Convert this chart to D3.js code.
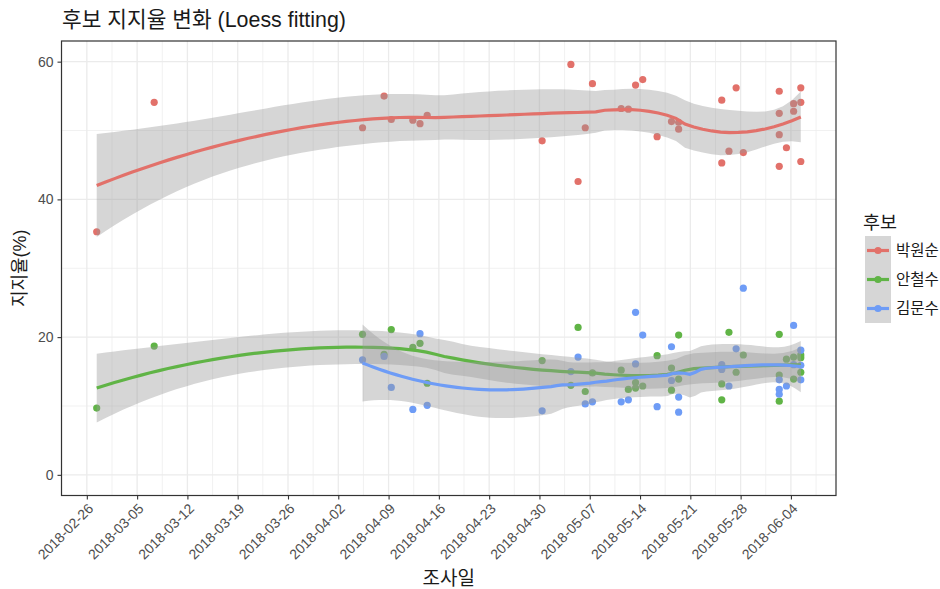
<!DOCTYPE html>
<html>
<head>
<meta charset="utf-8">
<script src="https://cdn.jsdelivr.net/npm/d3@7"></script>
<style>
  body { margin: 0; background: #ffffff; }
  svg { display: block; }
</style>
</head>
<body>
<svg id="chart" width="940" height="589"></svg>
<script>
// ---- data -------------------------------------------------------------
const candidates = ["박원순", "안철수", "김문수"];
const candidateColors = ["#E2716A", "#60B446", "#6E9CF6"];

const parkDates = ["2018-02-27","2018-03-07","2018-04-05","2018-04-08","2018-04-09","2018-04-12","2018-04-13","2018-04-14",
  "2018-04-30","2018-05-04","2018-05-05","2018-05-06","2018-05-07","2018-05-11","2018-05-12","2018-05-13","2018-05-14",
  "2018-05-16","2018-05-18","2018-05-19","2018-05-19","2018-05-25","2018-05-25","2018-05-26","2018-05-27","2018-05-28",
  "2018-06-02","2018-06-02","2018-06-02","2018-06-02","2018-06-03","2018-06-04","2018-06-04","2018-06-05","2018-06-05","2018-06-05"];
const parkValues = [35.3, 54.1, 50.4, 55.0, 51.6, 51.5, 51.0, 52.2,
  48.5, 59.6, 42.6, 50.4, 56.8, 53.2, 53.1, 56.6, 57.4,
  49.1, 51.3, 51.2, 50.2, 54.4, 45.3, 47.0, 56.2, 46.8,
  55.7, 52.5, 49.4, 44.8, 47.5, 53.9, 52.8, 56.2, 54.1, 45.5];

const ahnDates = ["2018-02-27","2018-03-07","2018-04-05","2018-04-08","2018-04-09","2018-04-12","2018-04-13","2018-04-14",
  "2018-04-30","2018-05-04","2018-05-05","2018-05-06","2018-05-07","2018-05-11","2018-05-12","2018-05-13","2018-05-13",
  "2018-05-14","2018-05-16","2018-05-18","2018-05-18","2018-05-19","2018-05-19","2018-05-25","2018-05-25","2018-05-26",
  "2018-05-27","2018-05-28","2018-06-02","2018-06-02","2018-06-02","2018-06-03","2018-06-04","2018-06-04","2018-06-05",
  "2018-06-05","2018-06-05"];
const ahnValues = [9.7, 18.7, 20.4, 17.5, 21.1, 18.5, 19.1, 13.3,
  16.6, 13.0, 21.4, 12.1, 14.8, 15.2, 12.4, 13.4, 12.6,
  12.9, 17.3, 15.5, 12.3, 20.3, 13.9, 13.2, 10.9, 20.7,
  14.9, 17.4, 20.4, 14.5, 10.7, 16.8, 17.1, 13.9, 17.4,
  17.0, 14.9];

const kimDates = ["2018-04-05","2018-04-08","2018-04-09","2018-04-12","2018-04-13","2018-04-14",
  "2018-04-30","2018-05-04","2018-05-05","2018-05-06","2018-05-07","2018-05-11","2018-05-12","2018-05-13","2018-05-13",
  "2018-05-14","2018-05-16","2018-05-18","2018-05-18","2018-05-19","2018-05-19","2018-05-25","2018-05-25","2018-05-26",
  "2018-05-27","2018-05-28","2018-06-02","2018-06-02","2018-06-02","2018-06-03","2018-06-04","2018-06-04","2018-06-05",
  "2018-06-05","2018-06-05"];
const kimValues = [16.7, 17.2, 12.7, 9.5, 20.5, 10.1,
  9.3, 15.0, 17.1, 10.3, 10.6, 10.6, 10.9, 23.6, 16.1,
  20.3, 9.9, 18.6, 13.7, 11.3, 9.1, 16.0, 15.3, 12.9,
  18.3, 27.1, 13.8, 12.4, 11.7, 12.9, 21.7, 16.0, 18.1,
  15.9, 13.8];

const xTickLabels = ["2018-02-26","2018-03-05","2018-03-12","2018-03-19","2018-03-26","2018-04-02","2018-04-09",
  "2018-04-16","2018-04-23","2018-04-30","2018-05-07","2018-05-14","2018-05-21","2018-05-28","2018-06-04"];
const yTicks = [0, 20, 40, 60];
const yMinorTicks = [10, 30, 50];
const yLimits = [0, 60];

const titleText = "후보 지지율 변화 (Loess fitting)";
const xTitle = "조사일";
const yTitle = "지지율(%)";
const legendTitle = "후보";

// ---- layout -----------------------------------------------------------
const panel = { left: 61.5, right: 836, top: 41, bottom: 495.5 };
const svg = d3.select("#chart");
const fontLatin = "'Liberation Sans', Arial, 'Noto Sans CJK KR', sans-serif";
const fontKo = "'Noto Sans CJK KR', 'Noto Sans', sans-serif";
const DAY = 86400000;

// survey dates are stored as UTC midnights; the axis labels sit on KST midnights
const parseSurvey = s => new Date(s + "T00:00:00Z");
const parseTick = s => new Date(s + "T00:00:00+09:00");

const series = [
  { name: candidates[0], color: candidateColors[0], dates: parkDates, values: parkValues },
  { name: candidates[1], color: candidateColors[1], dates: ahnDates, values: ahnValues },
  { name: candidates[2], color: candidateColors[2], dates: kimDates, values: kimValues }
].map(s => ({ ...s, points: s.dates.map((d, i) => ({ date: parseSurvey(d), value: s.values[i] })) }));

// ---- scales (5% expansion, as in ggplot) ------------------------------
const allDates = series.flatMap(s => s.points.map(p => +p.date));
const [dMin, dMax] = d3.extent(allDates);
const dPad = (dMax - dMin) * 0.05;
const x = d3.scaleUtc()
  .domain([new Date(dMin - dPad), new Date(dMax + dPad)])
  .range([panel.left, panel.right]);
const yPad = (yLimits[1] - yLimits[0]) * 0.05;
const y = d3.scaleLinear()
  .domain([yLimits[0] - yPad, yLimits[1] + yPad])
  .range([panel.bottom, panel.top]);

// ---- loess (degree 2, tricube weights) with confidence band -----------
function inv3(m) {
  const [a, b, c] = m[0], [d, e, f] = m[1], [g, h, k] = m[2];
  const A = e * k - f * h, B = -(d * k - f * g), C = d * h - e * g;
  const det = a * A + b * B + c * C;
  return [
    [A / det, -(b * k - c * h) / det, (b * f - c * e) / det],
    [B / det, (a * k - c * g) / det, -(a * f - c * d) / det],
    [C / det, -(a * h - b * g) / det, (a * e - b * d) / det]
  ];
}
function qt975(df) {
  const z = 1.959963985;
  const z3 = z ** 3, z5 = z ** 5, z7 = z ** 7, z9 = z ** 9;
  const g1 = (z3 + z) / 4;
  const g2 = (5 * z5 + 16 * z3 + 3 * z) / 96;
  const g3 = (3 * z7 + 19 * z5 + 17 * z3 - 15 * z) / 384;
  const g4 = (79 * z9 + 776 * z7 + 1482 * z5 - 1920 * z3 - 945 * z) / 92160;
  return z + g1 / df + g2 / df ** 2 + g3 / df ** 3 + g4 / df ** 4;
}
function loess(xs, ys, span, nEval) {
  const n = xs.length;
  const q = Math.floor(n * span);
  const hatRow = x0 => {
    const dist = xs.map(v => Math.abs(v - x0));
    const h = dist.slice().sort((a, b) => a - b)[q - 1];
    const w = dist.map(v => { const u = v / h; return u < 1 ? (1 - u * u * u) ** 3 : 0; });
    const V = xs.map(v => { const t = (v - x0) / h; return [1, t, t * t]; });
    const S = [[0, 0, 0], [0, 0, 0], [0, 0, 0]];
    for (let i = 0; i < n; i++)
      for (let a = 0; a < 3; a++)
        for (let b = 0; b < 3; b++) S[a][b] += w[i] * V[i][a] * V[i][b];
    const Si = inv3(S);
    return V.map((v, i) => w[i] * (Si[0][0] * v[0] + Si[0][1] * v[1] + Si[0][2] * v[2]));
  };
  const L = xs.map(hatRow);
  const fitted = L.map(r => d3.sum(r, (l, i) => l * ys[i]));
  const A = L.map((r, i) => r.map((l, j) => (i === j ? 1 : 0) - l));
  let delta1 = 0, delta2 = 0;
  for (let j = 0; j < n; j++) {
    for (let k = 0; k < n; k++) {
      let m = 0;
      for (let i = 0; i < n; i++) m += A[i][j] * A[i][k];
      if (j === k) delta1 += m;
      delta2 += m * m;
    }
  }
  const rss = d3.sum(ys, (v, i) => (v - fitted[i]) ** 2);
  const s = Math.sqrt(rss / delta1);
  const tq = qt975(delta1 * delta1 / delta2);
  const [lo, hi] = d3.extent(xs);
  return d3.range(nEval).map(i => {
    const x0 = lo + (hi - lo) * i / (nEval - 1);
    const r = hatRow(x0);
    const fit = d3.sum(r, (l, j) => l * ys[j]);
    const se = s * Math.sqrt(d3.sum(r, l => l * l));
    return { x: x0, fit, lower: fit - tq * se, upper: fit + tq * se };
  });
}
series.forEach(s => {
  const xs = s.points.map(p => +p.date / DAY);
  const ys = s.points.map(p => p.value);
  s.smooth = loess(xs, ys, 0.75, 80).map(d => ({ ...d, date: new Date(d.x * DAY) }));
});

// ---- grid -------------------------------------------------------------
const grid = svg.append("g");
const tickDates = xTickLabels.map(parseTick);
const halfWeek = 3.5 * DAY;
const xMinor = [];
tickDates.forEach(t => { xMinor.push(new Date(+t - halfWeek)); });
xMinor.push(new Date(+tickDates[tickDates.length - 1] + halfWeek));
const [xd0, xd1] = x.domain();
grid.selectAll("line.xminor").data(xMinor.filter(d => d > xd0 && d < xd1)).join("line")
  .attr("x1", d => x(d)).attr("x2", d => x(d)).attr("y1", panel.top).attr("y2", panel.bottom)
  .attr("stroke", "#ebebeb").attr("stroke-width", 0.7);
grid.selectAll("line.yminor").data(yMinorTicks).join("line")
  .attr("x1", panel.left).attr("x2", panel.right).attr("y1", d => y(d)).attr("y2", d => y(d))
  .attr("stroke", "#ebebeb").attr("stroke-width", 0.7);
grid.selectAll("line.xmajor").data(tickDates).join("line")
  .attr("x1", d => x(d)).attr("x2", d => x(d)).attr("y1", panel.top).attr("y2", panel.bottom)
  .attr("stroke", "#ebebeb").attr("stroke-width", 1.3);
grid.selectAll("line.ymajor").data(yTicks).join("line")
  .attr("x1", panel.left).attr("x2", panel.right).attr("y1", d => y(d)).attr("y2", d => y(d))
  .attr("stroke", "#ebebeb").attr("stroke-width", 1.3);

// ---- points -----------------------------------------------------------
const pts = svg.append("g");
series.forEach(s => {
  pts.selectAll(null).data(s.points).join("circle")
    .attr("cx", d => x(d.date)).attr("cy", d => y(d.value)).attr("r", 3.6)
    .attr("fill", s.color);
});

// ---- smooth lines with ribbons ----------------------------------------
svg.append("clipPath").attr("id", "panel-clip").append("rect")
  .attr("x", panel.left).attr("y", panel.top)
  .attr("width", panel.right - panel.left).attr("height", panel.bottom - panel.top);
const smoothG = svg.append("g").attr("clip-path", "url(#panel-clip)");
const area = d3.area().x(d => x(d.date)).y0(d => y(d.lower)).y1(d => y(d.upper));
const line = d3.line().x(d => x(d.date)).y(d => y(d.fit));
series.forEach(s => {
  smoothG.append("path").datum(s.smooth).attr("d", area)
    .attr("fill", "#999999").attr("fill-opacity", 0.4);
  smoothG.append("path").datum(s.smooth).attr("d", line)
    .attr("fill", "none").attr("stroke", s.color).attr("stroke-width", 3.2);
});

// ---- panel border & axes ----------------------------------------------
svg.append("rect")
  .attr("x", panel.left).attr("y", panel.top)
  .attr("width", panel.right - panel.left).attr("height", panel.bottom - panel.top)
  .attr("fill", "none").attr("stroke", "#333333").attr("stroke-width", 1.2);

const yAxis = d3.axisLeft(y).tickValues(yTicks).tickSize(4).tickPadding(4);
const gy = svg.append("g").attr("transform", `translate(${panel.left},0)`).call(yAxis);
gy.select(".domain").remove();
gy.selectAll(".tick line").attr("stroke", "#333333").attr("stroke-width", 1.1);
gy.selectAll(".tick text").attr("fill", "#4d4d4d").attr("font-size", 14)
  .attr("font-family", fontLatin);

const xAxis = d3.axisBottom(x).tickValues(tickDates).tickSize(4)
  .tickFormat((d, i) => xTickLabels[i]);
const gx = svg.append("g").attr("transform", `translate(0,${panel.bottom})`).call(xAxis);
gx.select(".domain").remove();
gx.selectAll(".tick line").attr("stroke", "#333333").attr("stroke-width", 1.1);
gx.selectAll(".tick text")
  .attr("fill", "#4d4d4d").attr("font-size", 14).attr("font-family", fontLatin)
  .attr("text-anchor", "end").attr("dy", null).attr("y", 0)
  .attr("transform", "translate(7,14) rotate(-45)");

// ---- titles -----------------------------------------------------------
svg.append("text").attr("x", 62).attr("y", 27).text(titleText)
  .attr("font-family", fontLatin).attr("font-size", 21.4).attr("fill", "#1a1a1a");
svg.append("text").attr("x", (panel.left + panel.right) / 2).attr("y", 585)
  .attr("text-anchor", "middle").text(xTitle)
  .attr("font-family", fontKo).attr("font-size", 19).attr("fill", "#1a1a1a");
svg.append("text").attr("transform", `translate(26,${(panel.top + panel.bottom) / 2}) rotate(-90)`)
  .attr("text-anchor", "middle").text(yTitle)
  .attr("font-family", fontLatin).attr("font-size", 18).attr("fill", "#1a1a1a");

// ---- legend -----------------------------------------------------------
const legend = svg.append("g").attr("transform", "translate(865,236)");
legend.append("text").attr("x", -2).attr("y", -7).text(legendTitle)
  .attr("font-family", fontKo).attr("font-size", 18.5).attr("fill", "#1a1a1a");
const keyW = 26, keyH = 29;
const keys = legend.selectAll("g.key").data(series).join("g")
  .attr("transform", (d, i) => `translate(0,${i * keyH})`);
keys.append("rect").attr("width", keyW).attr("height", keyH).attr("fill", "#d6d6d6");
keys.append("line").attr("x1", 2).attr("x2", keyW - 2).attr("y1", keyH / 2).attr("y2", keyH / 2)
  .attr("stroke", d => d.color).attr("stroke-width", 3.2);
keys.append("circle").attr("cx", keyW / 2).attr("cy", keyH / 2).attr("r", 3.6).attr("fill", d => d.color);
keys.append("text").attr("x", keyW + 5).attr("y", keyH / 2 + 5.5).text(d => d.name)
  .attr("font-family", fontKo).attr("font-size", 15.5).attr("fill", "#1a1a1a");
</script>
</body>
</html>
